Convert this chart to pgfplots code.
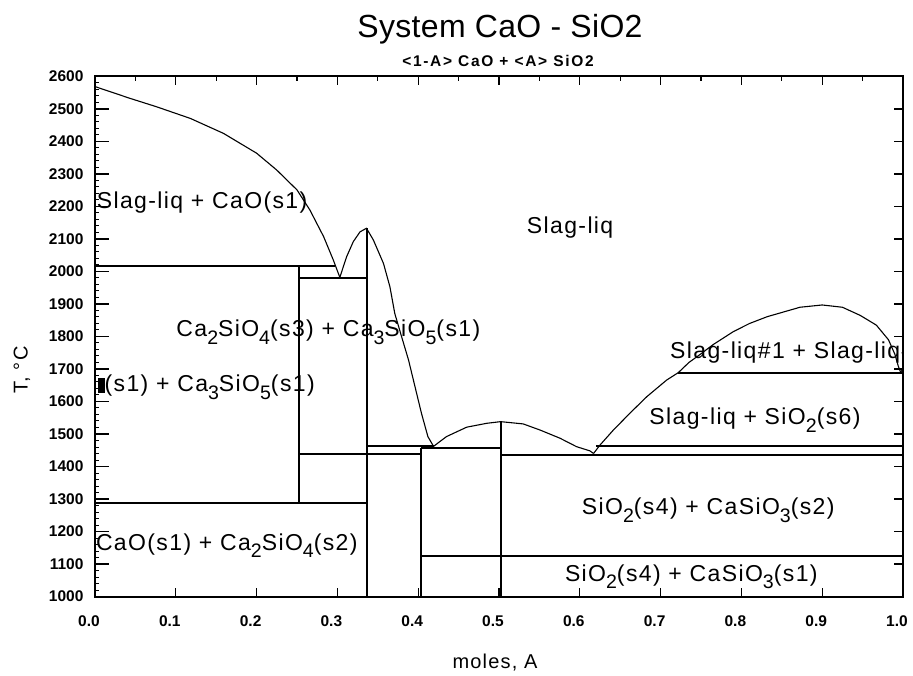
\documentclass[border=0pt]{standalone}
\usepackage{pgfplots}
\pgfplotsset{compat=1.18}
\usepackage{fontspec}
\usepackage{graphicx}
\setmainfont{Liberation Sans}
\newfontfamily\lab[LetterSpace=6]{Liberation Sans}
\newfontfamily\ttl[LetterSpace=1]{Liberation Sans}
\newfontfamily\sub[LetterSpace=11]{Liberation Sans}
\newfontfamily\tk{Liberation Sans}
% lowered index as used in the phase names
\newcommand{\dn}[1]{\raisebox{-0.32em}{\scalebox{0.85}{#1}}}

\pgfplotsset{
  boundary/.style={black, line width=1.9pt},
  liquidus/.style={black, line width=1.1pt},
}
\tikzset{phase/.style={font=\lab\fontsize{23}{23}\selectfont, inner sep=0pt}}

\begin{document}
\begin{tikzpicture}
\useasboundingbox (-95pt,-78.5pt) rectangle (818pt,596.5pt);

% frame ticks on top and right
\begin{axis}[
  at={(0,0)}, anchor=south west,
  scale only axis, width=808pt, height=520pt,
  xmin=0, xmax=1, ymin=1000, ymax=2600,
  axis line style={line width=2pt},
  xtick={0,0.1,...,1.0}, minor x tick num=1,
  ytick={1000,1100,...,2600},
  xtick pos=right, ytick pos=right,
  tick align=inside,
  major tick length=9pt, minor tick length=5pt,
  every tick/.style={black, line width=1.2pt},
  xticklabels={}, yticklabels={},
]
\end{axis}

\begin{axis}[
  at={(0,0)}, anchor=south west,
  scale only axis, width=808pt, height=520pt,
  xmin=0, xmax=1, ymin=1000, ymax=2600,
  axis line style={line width=2pt},
  xtick={0,0.1,0.2,0.3,0.4,0.5,0.6,0.7,0.8,0.9,1},
  xticklabels={0.0,0.1,0.2,0.3,0.4,0.5,0.6,0.7,0.8,0.9,1.0},
  ytick={1000,1100,...,2600},
  minor y tick num=4,
  xtick pos=left, ytick pos=left,
  tick align=inside,
  major tick length=14pt, minor tick length=4pt,
  xtick style={/pgfplots/major tick length=9pt},
  every tick/.style={black, line width=1.2pt},
  every minor tick/.style={black, line width=1pt},
  tick label style={font=\tk\bfseries\fontsize{15.5}{15.5}\selectfont},
  /pgf/number format/assume math mode=true,
  /pgf/number format/1000 sep={},
  xticklabel style={yshift=-16pt, xshift=-6pt},
  yticklabel style={xshift=-8pt},
]
% invariant lines
\addplot[boundary] coordinates {(0,2017) (0.297,2017)};
\addplot[boundary] coordinates {(0.252,1980) (0.337,1980)};
\addplot[boundary] coordinates {(0,1288) (0.337,1288)};
\addplot[boundary] coordinates {(0.252,1438) (0.403,1438)};
\addplot[boundary] coordinates {(0.337,1464) (0.420,1464)};
\addplot[boundary] coordinates {(0.403,1456) (0.502,1456)};
\addplot[boundary] coordinates {(0.502,1436) (1,1436)};
\addplot[boundary] coordinates {(0.620,1464) (1,1464)};
\addplot[boundary] coordinates {(0.403,1126) (1,1126)};
\addplot[boundary] coordinates {(0.722,1689) (1,1689)};
% compound lines
\addplot[boundary] coordinates {(0.252,2017) (0.252,1288)};
\addplot[boundary] coordinates {(0.337,2133) (0.337,1000)};
\addplot[boundary] coordinates {(0.403,1456) (0.403,1000)};
\addplot[boundary] coordinates {(0.502,1538) (0.502,1000)};
% liquidus, CaO side
\addplot[liquidus] coordinates {(0,2569) (0.043,2533) (0.076,2507) (0.118,2471)
  (0.159,2425) (0.200,2364) (0.225,2312) (0.250,2251) (0.266,2189)
  (0.283,2107) (0.295,2035) (0.303,1982)};
% Ca2SiO4 liquidus
\addplot[liquidus] coordinates {(0.303,1982) (0.3115,2046) (0.3197,2092)
  (0.328,2122) (0.336,2133) (0.3445,2097) (0.357,2025) (0.365,1953)
  (0.371,1871) (0.3795,1799) (0.388,1728) (0.396,1646) (0.404,1564)
  (0.412,1492) (0.419,1462)};
% CaSiO3 liquidus
\addplot[liquidus] coordinates {(0.419,1462) (0.435,1492) (0.460,1521)
  (0.485,1533) (0.502,1538) (0.530,1531) (0.551,1512) (0.5755,1487)
  (0.596,1461) (0.6126,1448) (0.617,1440)};
% SiO2 liquidus
\addplot[liquidus] coordinates {(0.617,1440) (0.625,1466) (0.6415,1512)
  (0.662,1564) (0.683,1615) (0.7075,1666) (0.722,1689)};
% liquid miscibility gap
\addplot[liquidus] coordinates {(0.722,1689) (0.735,1720) (0.749,1745)
  (0.765,1775) (0.790,1815) (0.810,1840) (0.832,1861) (0.8725,1890)
  (0.900,1897) (0.925,1890) (0.947,1865) (0.967,1835) (0.982,1790)
  (0.990,1745) (0.994,1710) (0.997,1690) (1.0,1700)};

% phase fields
\node[phase, anchor=base west] at (axis cs:0.002,2194) {Slag-liq + CaO(s1)};
\node[phase, anchor=base] at (axis cs:0.588,2118) {Slag-liq};
\node[phase, anchor=base] at (axis cs:0.2888,1799)
  {Ca\dn{2}SiO\dn{4}(s3) + Ca\dn{3}SiO\dn{5}(s1)};
\node[phase, anchor=base west] at (axis cs:0.003,1630)
  {\rule[-1pt]{7pt}{15pt}(s1) + Ca\dn{3}SiO\dn{5}(s1)};
\node[phase, anchor=base west] at (axis cs:0.001,1143)
  {CaO(s1) + Ca\dn{2}SiO\dn{4}(s2)};
\node[phase, anchor=base west] at (axis cs:0.7116,1733)
  {Slag-liq\#1 + Slag-liq\#2};
\node[phase, anchor=base] at (axis cs:0.8168,1528) {Slag-liq + SiO\dn{2}(s6)};
\node[phase, anchor=base] at (axis cs:0.759,1251)
  {SiO\dn{2}(s4) + CaSiO\dn{3}(s2)};
\node[phase, anchor=base] at (axis cs:0.738,1046)
  {SiO\dn{2}(s4) + CaSiO\dn{3}(s1)};
\end{axis}

% titles and axis names
\node[anchor=base, font=\ttl\fontsize{32}{32}\selectfont] at (405pt,558.5pt)
  {System CaO - SiO2};
\node[anchor=base, font=\sub\bfseries\fontsize{15.5}{15.5}\selectfont] at (403pt,529.5pt)
  {<1-A> CaO + <A> SiO2};
\node[anchor=base, font=\lab\fontsize{20}{20}\selectfont] at (400pt,-72pt)
  {moles, A};
\node[rotate=90, font=\lab\fontsize{20}{20}\selectfont] at (-73pt,226.5pt)
  {T, °C};
\end{tikzpicture}
\end{document}
